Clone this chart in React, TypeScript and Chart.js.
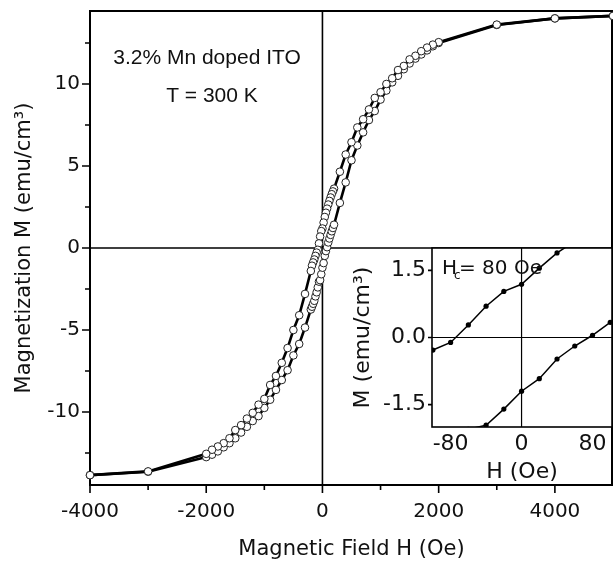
import React, { useEffect, useRef } from 'react';
import { Chart, registerables } from 'chart.js';

Chart.register(...registerables);

// Descending-field branch (upper branch), H in Oe, M in emu/cm^3
const FIELD_DOWN = [5000, 4000, 3000, 2000, 1900, 1800, 1700, 1600, 1500, 1400, 1300, 1200, 1100, 1000, 900, 800, 700, 600, 500, 400, 300, 200,
  180, 160, 140, 120, 100, 80, 60, 40, 20, 0, -20, -40, -60, -80, -100, -120, -140, -160, -180, -200,
  -300, -400, -500, -600, -700, -800, -900, -1000, -1100, -1200, -1300, -1400, -1500, -1600, -1700, -1800, -1900, -2000, -3000, -4000];
const MAG_DOWN = [14.15, 14.0, 13.62, 12.55, 12.4, 12.22, 12.0, 11.72, 11.5, 11.1, 10.85, 10.35, 10.0, 9.5, 9.15, 8.45, 7.85, 7.35, 6.45, 5.7, 4.65, 3.62,
  3.45, 3.28, 3.08, 2.87, 2.65, 2.4, 2.15, 1.89, 1.55, 1.19, 1.03, 0.7, 0.28, -0.11, -0.28, -0.48, -0.7, -0.88, -1.08, -1.4,
  -2.8, -4.1, -5.0, -6.1, -7.0, -7.8, -8.35, -9.2, -9.55, -10.05, -10.4, -10.8, -11.1, -11.6, -11.9, -12.1, -12.3, -12.55, -13.62, -13.85];

// Ascending-field branch (lower branch)
const FIELD_UP = [-4000, -3000, -2000, -1900, -1800, -1700, -1600, -1500, -1400, -1300, -1200, -1100, -1000, -900, -800, -700, -600, -500, -400, -300, -200,
  -180, -160, -140, -120, -100, -80, -60, -40, -20, 0, 20, 40, 60, 80, 100, 120, 140, 160, 180, 200,
  300, 400, 500, 600, 700, 800, 900, 1000, 1100, 1200, 1300, 1400, 1500, 1600, 1700, 1800, 1900, 2000, 3000, 4000, 5000];
const MAG_UP = [-13.85, -13.64, -12.75, -12.6, -12.4, -12.15, -11.9, -11.6, -11.25, -10.9, -10.55, -10.25, -9.75, -9.25, -8.65, -8.05, -7.45, -6.55, -5.85, -4.85, -3.75,
  -3.58, -3.4, -3.22, -2.95, -2.7, -2.4, -2.05, -1.96, -1.6, -1.2, -0.92, -0.48, -0.19, 0.05, 0.34, 0.58, 0.8, 1.02, 1.22, 1.42,
  2.75, 4.0, 5.35, 6.25, 7.05, 7.8, 8.35, 9.05, 9.6, 10.1, 10.5, 10.9, 11.25, 11.55, 11.8, 12.05, 12.3, 12.5, 13.6, 14.0, 14.15];

const X_TICKS = [-4000, -2000, 0, 2000, 4000];
const X_MINOR = [-3000, -1000, 1000, 3000];
const Y_TICKS = [-10, -5, 0, 5, 10];
const Y_MINOR = [-12.5, -7.5, -2.5, 2.5, 7.5, 12.5];
const INSET_X_TICKS = [-80, 0, 80];
const INSET_Y_TICKS = [-1.5, 0, 1.5];
const INSET_WINDOW = 120;

const FONT = 'DejaVu Sans';

function pts(h: number[], m: number[], lim?: number) {
  const out: { x: number; y: number }[] = [];
  h.forEach((v, i) => {
    if (lim === undefined || Math.abs(v) <= lim) out.push({ x: v, y: m[i] });
  });
  return out;
}

function noPad(s: any) {
  s.paddingTop = 0;
  s.paddingBottom = 0;
  s.paddingLeft = 0;
  s.paddingRight = 0;
}

const mainDecor = {
  id: 'mainDecor',
  beforeDatasetsDraw(chart: any) {
    const { ctx, chartArea: a, scales } = chart;
    const x = scales.x, y = scales.y;
    ctx.save();
    ctx.strokeStyle = '#000';
    const x0 = x.getPixelForValue(0);
    const y0 = y.getPixelForValue(0);
    ctx.lineWidth = 1.6;
    ctx.beginPath();
    ctx.moveTo(x0, a.top); ctx.lineTo(x0, a.bottom);
    ctx.moveTo(a.left, y0); ctx.lineTo(a.right, y0);
    ctx.stroke();
    ctx.lineWidth = 2;
    ctx.strokeRect(a.left, a.top, a.right - a.left - 1, a.bottom - a.top);
    ctx.lineWidth = 1.6;
    ctx.beginPath();
    X_TICKS.forEach(v => { const p = x.getPixelForValue(v); ctx.moveTo(p, a.bottom); ctx.lineTo(p, a.bottom + 8); });
    X_MINOR.forEach(v => { const p = x.getPixelForValue(v); ctx.moveTo(p, a.bottom); ctx.lineTo(p, a.bottom + 5); });
    Y_TICKS.forEach(v => { const p = y.getPixelForValue(v); ctx.moveTo(a.left - 8, p); ctx.lineTo(a.left, p); });
    Y_MINOR.forEach(v => { const p = y.getPixelForValue(v); ctx.moveTo(a.left - 5, p); ctx.lineTo(a.left, p); });
    ctx.stroke();
    ctx.fillStyle = '#111';
    ctx.font = '21px "Liberation Sans"';
    ctx.textAlign = 'center';
    ctx.textBaseline = 'middle';
    ctx.fillText('3.2% Mn doped ITO', 207, 58);
    ctx.fillText('T = 300 K', 212, 96);
    ctx.restore();
  },
};

const insetDecor = {
  id: 'insetDecor',
  beforeDraw(chart: any) {
    const { ctx, chartArea: a } = chart;
    ctx.save();
    ctx.fillStyle = '#fff';
    ctx.fillRect(a.left, a.top, a.right - a.left, a.bottom - a.top);
    ctx.restore();
  },
  beforeDatasetsDraw(chart: any) {
    const { ctx, chartArea: a, scales } = chart;
    const x0 = scales.x.getPixelForValue(0);
    const y0 = scales.y.getPixelForValue(0);
    ctx.save();
    ctx.strokeStyle = '#000';
    ctx.lineWidth = 1.2;
    ctx.beginPath();
    ctx.moveTo(x0, a.top); ctx.lineTo(x0, a.bottom);
    ctx.moveTo(a.left, y0); ctx.lineTo(a.right, y0);
    ctx.stroke();
    ctx.restore();
  },
  afterDatasetsDraw(chart: any) {
    const { ctx, chartArea: a, scales } = chart;
    ctx.save();
    ctx.strokeStyle = '#000';
    ctx.lineWidth = 1.6;
    ctx.strokeRect(a.left, a.top, a.right - a.left, a.bottom - a.top);
    ctx.beginPath();
    INSET_Y_TICKS.forEach(v => { const p = scales.y.getPixelForValue(v); ctx.moveTo(a.left - 4, p); ctx.lineTo(a.left, p); });
    ctx.stroke();
    ctx.fillStyle = '#111';
    ctx.textAlign = 'left';
    ctx.textBaseline = 'alphabetic';
    const bx = a.left + 10;
    const by = a.top + 26;
    ctx.font = `20px "${FONT}"`;
    ctx.fillText('H', bx, by);
    ctx.font = `12px "${FONT}"`;
    ctx.fillText('c', bx + 12, by + 5);
    ctx.font = `20px "${FONT}"`;
    ctx.fillText('= 80 Oe', bx + 17, by);
    ctx.restore();
  },
};

export default function App() {
  const mainRef = useRef<HTMLCanvasElement>(null);
  const insetRef = useRef<HTMLCanvasElement>(null);

  useEffect(() => {
    const lineStyle = {
      borderColor: '#000',
      borderWidth: 2.6,
      pointRadius: 3.8,
      pointBorderWidth: 1,
      pointBorderColor: '#222',
      pointBackgroundColor: '#fff',
      tension: 0,
      clip: false as any,
    };
    const main = new Chart(mainRef.current!, {
      type: 'line',
      data: {
        datasets: [
          { ...lineStyle, data: pts(FIELD_DOWN, MAG_DOWN) } as any,
          { ...lineStyle, data: pts(FIELD_UP, MAG_UP) } as any,
        ],
      },
      options: {
        responsive: false,
        animation: false,
        events: [],
        layout: { autoPadding: false, padding: { top: 11, left: 0, right: 0, bottom: 0 } },
        plugins: { legend: { display: false }, tooltip: { enabled: false } },
        scales: {
          x: {
            type: 'linear',
            min: -4000,
            max: 5000,
            grid: { display: false, drawTicks: false },
            border: { display: false },
            afterBuildTicks: (s: any) => { s.ticks = X_TICKS.map(v => ({ value: v })); },
            afterFit: (s: any) => { s.height = 77; noPad(s); },
            ticks: { font: { family: FONT, size: 20 }, color: '#111', padding: 15, maxRotation: 0, callback: (v: any) => String(v) },
            title: { display: true, text: 'Magnetic Field H (Oe)', font: { family: FONT, size: 21 }, color: '#111', padding: { top: 0, bottom: 0 } },
          },
          y: {
            type: 'linear',
            min: -14.45,
            max: 14.45,
            grid: { display: false, drawTicks: false },
            border: { display: false },
            afterBuildTicks: (s: any) => { s.ticks = Y_TICKS.map(v => ({ value: v })); },
            afterFit: (s: any) => { s.width = 90; noPad(s); },
            ticks: { font: { family: FONT, size: 20 }, color: '#111', padding: 10, callback: (v: any) => String(v) },
            title: { display: true, text: 'Magnetization M (emu/cm³)', font: { family: FONT, size: 21 }, color: '#111', padding: { top: 12, bottom: 0 } },
          },
        },
      },
      plugins: [mainDecor],
    });

    const insetStyle = {
      borderColor: '#000',
      borderWidth: 1.5,
      pointRadius: 2.6,
      pointBorderWidth: 0,
      pointBackgroundColor: '#000',
      tension: 0,
      clip: 0 as any,
    };
    const inset = new Chart(insetRef.current!, {
      type: 'line',
      data: {
        datasets: [
          { ...insetStyle, data: pts(FIELD_DOWN, MAG_DOWN, INSET_WINDOW) } as any,
          { ...insetStyle, data: pts(FIELD_UP, MAG_UP, INSET_WINDOW) } as any,
        ],
      },
      options: {
        responsive: false,
        animation: false,
        events: [],
        layout: { autoPadding: false, padding: { top: 8, left: 0, right: 1, bottom: 0 } },
        plugins: { legend: { display: false }, tooltip: { enabled: false } },
        scales: {
          x: {
            type: 'linear',
            min: -101,
            max: 102,
            grid: { display: false, drawTicks: false },
            border: { display: false },
            afterBuildTicks: (s: any) => { s.ticks = INSET_X_TICKS.map(v => ({ value: v })); },
            afterFit: (s: any) => { s.height = 58; noPad(s); },
            ticks: { font: { family: FONT, size: 22 }, color: '#111', padding: 4, maxRotation: 0, callback: (v: any) => String(v) },
            title: { display: true, text: 'H (Oe)', font: { family: FONT, size: 22 }, color: '#111', padding: { top: 0, bottom: 0 } },
          },
          y: {
            type: 'linear',
            min: -2,
            max: 2,
            grid: { display: false, drawTicks: false },
            border: { display: false },
            afterBuildTicks: (s: any) => { s.ticks = INSET_Y_TICKS.map(v => ({ value: v })); },
            afterFit: (s: any) => { s.width = 92; noPad(s); },
            ticks: { font: { family: FONT, size: 22 }, color: '#111', padding: 6, callback: (v: any) => Number(v).toFixed(1) },
            title: { display: true, text: 'M (emu/cm³)', font: { family: FONT, size: 22 }, color: '#111', padding: { top: 10, bottom: 0 } },
          },
        },
      },
      plugins: [insetDecor],
    });

    return () => {
      main.destroy();
      inset.destroy();
    };
  }, []);

  return (
    <div style={{ position: 'absolute', left: 0, top: 0, width: 613, height: 562, background: '#fff' }}>
      <canvas ref={mainRef} width={613} height={562} style={{ position: 'absolute', left: 0, top: 0, width: 613, height: 562 }} />
      <canvas ref={insetRef} width={273} height={245} style={{ position: 'absolute', left: 340, top: 240, width: 273, height: 245 }} />
    </div>
  );
}
